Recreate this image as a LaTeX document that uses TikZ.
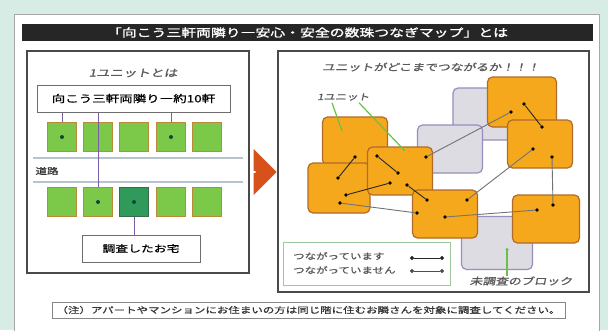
\documentclass[tikz,border=0pt]{standalone}
\usepackage{fontspec}
\usetikzlibrary{shapes.arrows, arrows.meta, positioning}
\newfontfamily\jp[FakeStretch=1.35,FakeBold=0.8]{Noto Sans CJK JP}
\newfontfamily\jpb[FakeStretch=1.35,FakeBold=1.6]{Noto Sans CJK JP}
\newfontfamily\jpi[FakeStretch=1.35,FakeBold=1.3,FakeSlant=0.2]{Noto Sans CJK JP}
\newcommand\fsz[1]{\fontsize{#1}{#1}\selectfont}
\definecolor{bgmint}{HTML}{D7ECE4}
\definecolor{panelgrey}{HTML}{A8A8A8}
\definecolor{titleblack}{HTML}{262626}
\definecolor{frame}{HTML}{4A4A4A}
\definecolor{housegreen}{HTML}{7CC94A}
\definecolor{housebrd}{HTML}{B88A3A}
\definecolor{darkhouse}{HTML}{2F9A5A}
\definecolor{darkbrd}{HTML}{3A6A4A}
\definecolor{dotgreen}{HTML}{0B4A3A}
\definecolor{linkpurple}{HTML}{7A5CA8}
\definecolor{unitorange}{HTML}{F5A81C}
\definecolor{unitbrd}{HTML}{B06A2A}
\definecolor{blockgrey}{HTML}{DCDCE2}
\definecolor{blockbrd}{HTML}{9A8CC0}
\definecolor{legendgreen}{HTML}{9CC89C}
\definecolor{labelgreen}{HTML}{6CC04A}
\definecolor{arrowred}{HTML}{D8501A}
\definecolor{roadgrey}{HTML}{B8C4CC}
\definecolor{textgrey}{HTML}{5A5A5A}

\begin{document}
\begin{tikzpicture}[
    x=1pt, y=-1pt,
    house/.style={rectangle, draw=housebrd, fill=housegreen, line width=0.8pt,
                 minimum width=29pt, minimum height=29pt, inner sep=0},
    visited/.style={house, draw=darkbrd, fill=darkhouse},
    hdot/.style={circle, fill=dotgreen, inner sep=0, minimum size=4pt},
    unit/.style={rectangle, rounded corners=5pt, draw=unitbrd, fill=unitorange,
                line width=1.2pt, minimum width=65pt, minimum height=48pt},
    block/.style={unit, draw=blockbrd, fill=blockgrey},
    pt/.style={circle, fill=black, inner sep=0, minimum size=3.8pt},
    link/.style={line width=0.9pt, black!85},
    loose/.style={line width=0.9pt, black!55},
    tag/.style={line width=0.9pt, linkpurple},
    leaf/.style={line width=1.2pt, labelgreen},
    slant/.style={inner sep=0, text=textgrey, font=\jpi\fsz{9.5}},
    legtxt/.style={inner sep=0, text=textgrey, font=\jp\fsz{8.5}},
    road/.style={line width=1.5pt, roadgrey}
]
\fill[bgmint] (0,0) rectangle (608,330);
\useasboundingbox (0,0) rectangle (608,330);

% Outer sheet and title
\node[rectangle, draw=panelgrey, fill=white, line width=1pt,
      minimum width=585pt, minimum height=322pt] (sheet) at (306.5,175) {};
\node[rectangle, fill=titleblack, minimum width=571pt, minimum height=17pt,
      text=white, font=\jpb\fsz{11}, inner sep=0] (title) at (307.5,32.5)
      {「向こう三軒両隣り―安心・安全の数珠つなぎマップ」とは};

% Left and right frames
\node[rectangle, draw=frame, fill=white, line width=2pt,
      minimum width=222pt, minimum height=222pt] (leftpanel) at (138,162) {};
\node[rectangle, draw=frame, fill=white, line width=2pt,
      minimum width=311pt, minimum height=241pt] (rightpanel) at (433.5,171.5) {};
\node[single arrow, fill=arrowred, inner sep=0, minimum height=21pt,
      minimum width=46pt, single arrow head extend=4pt] (go) at (265.5,172) {};

% Left: one unit
\node[slant, font=\jpi\fsz{10}] (unitttl) at (133,73) {1ユニットとは};
\node[rectangle, draw=frame!80, line width=1pt, minimum width=193pt,
      minimum height=27pt, font=\jp\fsz{10}] (ten) at (133.5,98.5)
      {向こう三軒両隣り―約10軒};

\draw[road] (33,158) -- (243,158);
\draw[road] (33,182) -- (243,182);
\node[legtxt, text=black!80] (street) at (47,171) {道路};

\foreach \i/\x in {1/62,2/98,3/134,4/171,5/207}
    \node[house] (h\i) at (\x,137) {};
\foreach \i/\x/\s in {1/62/house,2/98/house,3/134/visited,4/171/house,5/207/house}
    \node[\s] (r\i) at (\x,202) {};

\node[rectangle, draw=frame!80, line width=1pt, minimum width=118pt,
      minimum height=27pt, font=\jp\fsz{9.5}] (visit) at (141,248.5)
      {調査したお宅};

\draw[tag] (h1) -- (h1 |- ten.south);
\draw[tag] (h4) -- (h4 |- ten.south);
\draw[tag] (r2 |- ten.south) -- (r2);
\draw[tag] (r3) -- (r3 |- visit.north);
\foreach \d in {h1, h4, r2, r3}
    \node[hdot] (\d dot) at (\d) {};

% Right: how far the units reach
\node[slant] (reach) at (431,67) {ユニットがどこまでつながるか！！！};
\node[slant, font=\jpi\fsz{8.5}, anchor=west] (one) at (317,97) {1ユニット};

\node[block, minimum width=64pt, minimum height=52pt] (uh) at (485,114) {};
\node[block] (ui) at (450,149) {};
\node[block, minimum width=71pt, minimum height=53pt] (uj) at (497,243) {};

\node[unit] (ua) at (355,141) {};
\node[unit, minimum width=62pt, minimum height=50pt] (ub) at (339,188) {};
\node[unit] (uc) at (400,171) {};
\node[unit] (ud) at (445,214) {};
\node[unit, minimum width=69pt, minimum height=50pt] (ue) at (522,102) {};
\node[unit] (uf) at (540,144) {};
\node[unit, minimum width=67pt] (ug) at (546,219) {};

% Dots
\node[pt] (a1) at (355,157) {};
\node[pt] (a2) at (377,156) {};
\node[pt] (b1) at (338,178) {};
\node[pt] (b2) at (346,195) {};
\node[pt] (b3) at (340,203) {};
\node[pt] (c1) at (426,157) {};
\node[pt] (c2) at (398,173) {};
\node[pt] (c3) at (390,183) {};
\node[pt] (c4) at (407,185) {};
\node[pt] (d1) at (427,200) {};
\node[pt] (d2) at (467,200) {};
\node[pt] (d3) at (417,213) {};
\node[pt] (d4) at (445,217) {};
\node[pt] (e1) at (511,112) {};
\node[pt] (e2) at (524,104) {};
\node[pt] (f1) at (542,127) {};
\node[pt] (f2) at (533,149) {};
\node[pt] (f3) at (552,157) {};
\node[pt] (g1) at (537,210) {};
\node[pt] (g2) at (553,205) {};

% Links
\draw[link] (a1) -- (b1);
\draw[link] (a2) -- (c2);
\draw[link] (c3) -- (b2);
\draw[link] (c4) -- (d1);
\draw[link] (e2) -- (f1);
\draw[loose] (c1) -- (e1);
\draw[loose] (f2) -- (d2);
\draw[loose] (f3) -- (g2);
\draw[loose] (b3) -- (d3);
\draw[loose] (d4) -- (g1);

% Unit label pointers
\coordinate (inA) at (342,131);
\coordinate (inC) at (405,151);
\draw[leaf] ([xshift=15pt,yshift=-2pt]one.south west) -- (inA);
\draw[leaf] ([xshift=42pt,yshift=-2pt]one.south west) -- (inC);

% Legend
\node[rectangle, draw=legendgreen, fill=white, line width=1pt,
      minimum width=167pt, minimum height=43pt] (legend) at (366.5,263.5) {};
\node[legtxt, anchor=west] (yes) at (293,256) {つながっています};
\node[legtxt, anchor=west] (no) at (293,270) {つながっていません};
\coordinate (ya) at (410,258);
\coordinate (yb) at (444,258);
\coordinate (na) at (410,271);
\coordinate (nb) at (444,271);
\draw[link, {Circle[length=4pt]}-{Circle[length=4pt]}] (ya) -- (yb);
\draw[loose, black!70, {Circle[length=4pt]}-{Circle[length=4pt]}] (na) -- (nb);

% Unsurveyed block
\node[slant] (unsurveyed) at (521,281) {未調査のブロック};
\coordinate (inJ) at (507,248);
\draw[leaf, -{Circle[length=3pt]}] (unsurveyed.north -| inJ) -- (inJ);

% Note
\node[rectangle, draw=panelgrey!80!black, line width=1pt, minimum width=513pt,
      minimum height=16pt, font=\jp\fsz{8.5}, text=black!80] (note) at (308.5,310)
      {（注）アパートやマンションにお住まいの方は同じ階に住むお隣さんを対象に調査してください。};

\end{tikzpicture}
\end{document}
